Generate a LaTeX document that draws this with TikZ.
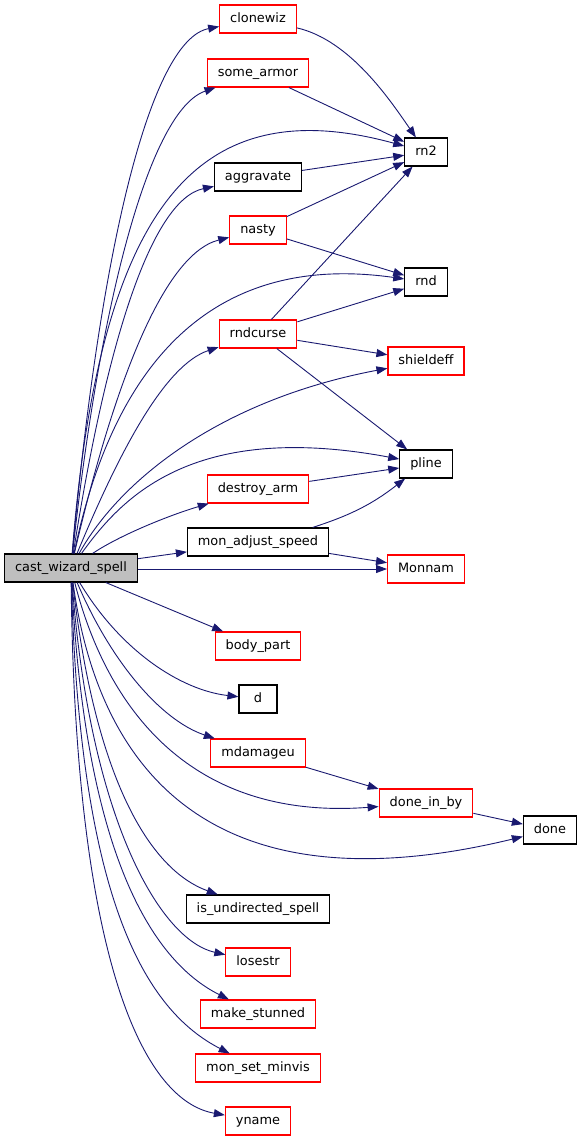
\documentclass[tikz,border=0pt]{standalone}
\usepackage{fontspec}
\setmainfont{DejaVu Sans}
\usetikzlibrary{arrows.meta}
\definecolor{callblue}{HTML}{191970}
\definecolor{rootgrey}{HTML}{BFBFBF}
\begin{document}
\begin{tikzpicture}[x=1pt, y=-1pt, >={Triangle[length=11pt,width=8pt]},
  fn/.style={draw, rectangle, line width=1.1pt, fill=white, minimum height=28pt, minimum width=38pt,
    inner xsep=10.5pt, text height=9.6pt, text depth=2.6pt, font=\fontsize{12.9}{14}\selectfont},
  trunc/.style={fn, draw=red},
  leaf/.style={fn, draw=black},
  root/.style={fn, draw=black, fill=rootgrey},
  call/.style={->, draw=callblue, line width=0.9pt}]
  \useasboundingbox (0,0) rectangle (584,1141);
  % the function and its callees
  \node[root] (cast) at (71,568) {cast\_wizard\_spell};
  \node[trunc] (clonewiz) at (258,19) {clonewiz};
  \node[trunc] (somearmor) at (258,73) {some\_armor};
  \node[leaf] (aggravate) at (258,177) {aggravate};
  \node[trunc] (nasty) at (258,230) {nasty};
  \node[trunc] (rndcurse) at (258,334) {rndcurse};
  \node[trunc] (destroyarm) at (258,489) {destroy\_arm};
  \node[leaf] (adjspeed) at (258,542) {mon\_adjust\_speed};
  \node[trunc] (bodypart) at (258,646) {body\_part};
  \node[leaf] (d) at (258,699) {d};
  \node[trunc] (mdamageu) at (258,753) {mdamageu};
  \node[leaf] (undirected) at (258,909) {is\_undirected\_spell};
  \node[trunc] (losestr) at (258,962) {losestr};
  \node[trunc] (stunned) at (258,1014) {make\_stunned};
  \node[trunc] (minvis) at (258,1068) {mon\_set\_minvis};
  \node[trunc] (yname) at (258,1121) {yname};
  % second level
  \node[leaf] (rntwo) at (426,152) {rn2};
  \node[leaf] (rnd) at (426,282) {rnd};
  \node[trunc] (shieldeff) at (426,361) {shieldeff};
  \node[leaf] (pline) at (426,464) {pline};
  \node[trunc] (monnam) at (426,569) {Monnam};
  \node[trunc] (doneinby) at (426,803) {done\_in\_by};
  \node[leaf] (done) at (550,830) {done};
  % calls from cast_wizard_spell
  \draw[call] (cast) .. controls (100,250) and (150,40) .. (clonewiz);
  \draw[call] (cast) .. controls (100,300) and (150,110) .. (somearmor);
  \draw[call] (cast) .. controls (100,200) and (200,90) .. (rntwo);
  \draw[call] (cast) .. controls (105,350) and (150,200) .. (aggravate);
  \draw[call] (cast) .. controls (110,400) and (160,255) .. (nasty);
  \draw[call] (cast) .. controls (110,380) and (200,250) .. (rnd);
  \draw[call] (cast) .. controls (120,450) and (165,365) .. (rndcurse);
  \draw[call] (cast) .. controls (120,480) and (220,400) .. (shieldeff);
  \draw[call] (cast) .. controls (120,500) and (190,420) .. (pline);
  \draw[call] (cast) .. controls (120,535) and (170,515) .. (destroyarm);
  \draw[call] (cast) -- (adjspeed);
  \draw[call] (cast.east |- monnam) -- (monnam);
  \draw[call] (cast) -- (bodypart);
  \draw[call] (cast) .. controls (120,650) and (180,690) .. (d);
  \draw[call] (cast) .. controls (110,660) and (160,720) .. (mdamageu);
  \draw[call] (cast) .. controls (110,720) and (200,820) .. (doneinby);
  \draw[call] (cast) .. controls (100,780) and (220,910) .. (done);
  \draw[call] (cast) .. controls (95,780) and (150,870) .. (undirected);
  \draw[call] (cast) .. controls (90,820) and (160,940) .. (losestr);
  \draw[call] (cast) .. controls (85,850) and (150,960) .. (stunned);
  \draw[call] (cast) .. controls (80,900) and (145,1010) .. (minvis);
  \draw[call] (cast) .. controls (75,950) and (140,1100) .. (yname);
  % calls between callees
  \draw[call] (clonewiz) .. controls (350,40) and (390,100) .. (rntwo);
  \draw[call] (somearmor) -- (rntwo);
  \draw[call] (aggravate) -- (rntwo);
  \draw[call] (nasty) -- (rntwo);
  \draw[call] (nasty) -- (rnd);
  \draw[call] (rndcurse) -- (rntwo);
  \draw[call] (rndcurse) -- (rnd);
  \draw[call] (rndcurse) -- (shieldeff);
  \draw[call] (rndcurse) -- (pline);
  \draw[call] (destroyarm) -- (pline);
  \draw[call] (adjspeed) to[bend right=10] (pline);
  \draw[call] (adjspeed) -- (monnam);
  \draw[call] (mdamageu) -- (doneinby);
  \draw[call] (doneinby) -- (done);
\end{tikzpicture}
\end{document}
